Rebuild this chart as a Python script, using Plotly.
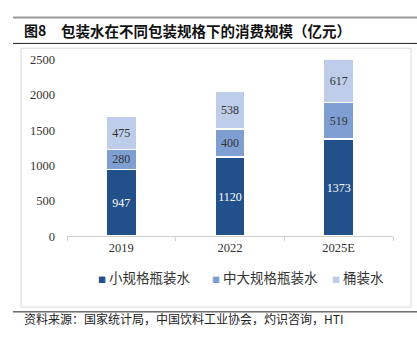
import plotly.graph_objects as go

W, H = 417, 339

categories = ["2019", "2022", "2025E"]
small_bottle = [947, 1120, 1373]
large_bottle = [280, 400, 519]
barrel = [475, 538, 617]
series_names = ["小规格瓶装水", "中大规格瓶装水", "桶装水"]
y_ticks = [0, 500, 1000, 1500, 2000, 2500]

colors = ["#21508A", "#7F9FD3", "#BDCDEA"]
text_colors = ["#FFFFFF", "#333333", "#333333"]

def px(x):
    return x / W

def py(y):
    return 1 - y / H

fig = go.Figure()
for vals, name, c, tc in zip([small_bottle, large_bottle, barrel], series_names, colors, text_colors):
    fig.add_trace(go.Bar(
        x=categories, y=vals, name=name,
        marker=dict(color=c, line=dict(color="white", width=1.5)),
        text=[str(v) for v in vals], textposition="inside", insidetextanchor="middle",
        textangle=0,
        textfont=dict(family="Liberation Serif", size=12, color=tc),
        showlegend=False,
    ))

fig.update_layout(
    width=W, height=H,
    margin=dict(l=0, r=0, t=0, b=0),
    paper_bgcolor="white", plot_bgcolor="white",
    barmode="stack", bargap=0.724,
    uniformtext=dict(minsize=12, mode="show"),
    xaxis=dict(
        domain=[px(67), px(393)],
        showline=True, linecolor="#D0D0D0", linewidth=1,
        ticks="outside", tickson="boundaries", ticklen=4, tickcolor="#D0D0D0",
        tickfont=dict(family="Liberation Serif", size=12.5, color="#333333"),
        showgrid=False,
    ),
    yaxis=dict(
        domain=[py(239), py(55)],
        range=[0, 2500], tickvals=y_ticks,
        showline=False, showgrid=False, zeroline=False,
        ticks="", ticklabelstandoff=11,
        tickfont=dict(family="Liberation Serif", size=12.5, color="#333333"),
    ),
    font=dict(family="Noto Sans CJK SC"),
)

shapes = [
    dict(type="line", xref="paper", yref="paper", x0=px(13), x1=1, y0=py(11), y1=py(11),
         line=dict(color="#9A9A9A", width=2)),
    dict(type="line", xref="paper", yref="paper", x0=px(13), x1=1, y0=py(38), y1=py(38),
         line=dict(color="#222222", width=1)),
    dict(type="rect", xref="paper", yref="paper", x0=px(21), x1=px(411), y0=py(313), y1=py(43),
         line=dict(color="#DADADA", width=1)),
    dict(type="line", xref="paper", yref="paper", x0=px(13), x1=1, y0=py(318), y1=py(318),
         line=dict(color="#222222", width=1)),
]
fig.update_layout(shapes=shapes)

annotations = [
    dict(text="<b>图8</b>", x=px(22), y=py(24), xref="paper", yref="paper",
         xanchor="left", yanchor="middle", showarrow=False,
         font=dict(family="Noto Sans CJK SC", size=14, color="#111111")),
    dict(text="<b>包装水在不同包装规格下的消费规模（亿元）</b>", x=px(59), y=py(24), xref="paper", yref="paper",
         xanchor="left", yanchor="middle", showarrow=False,
         font=dict(family="Noto Sans CJK SC", size=14.5, color="#111111")),
    dict(text="资料来源：国家统计局，中国饮料工业协会，灼识咨询，HTI", x=px(22), y=py(325), xref="paper", yref="paper",
         xanchor="left", yanchor="middle", showarrow=False,
         font=dict(family="Noto Sans CJK SC", size=12, color="#222222")),
]

legend_x = [96, 210, 330]
for name, c, lx in zip(series_names, colors, legend_x):
    annotations.append(dict(
        text=f"<span style='color:{c};font-size:8px'>■</span> {name}", x=px(lx), y=py(282),
        xref="paper", yref="paper", xanchor="left", yanchor="middle", showarrow=False,
        font=dict(family="Noto Sans CJK SC", size=13.5, color="#333333"),
    ))
fig.update_layout(annotations=annotations)

fig.write_html("out.html")
